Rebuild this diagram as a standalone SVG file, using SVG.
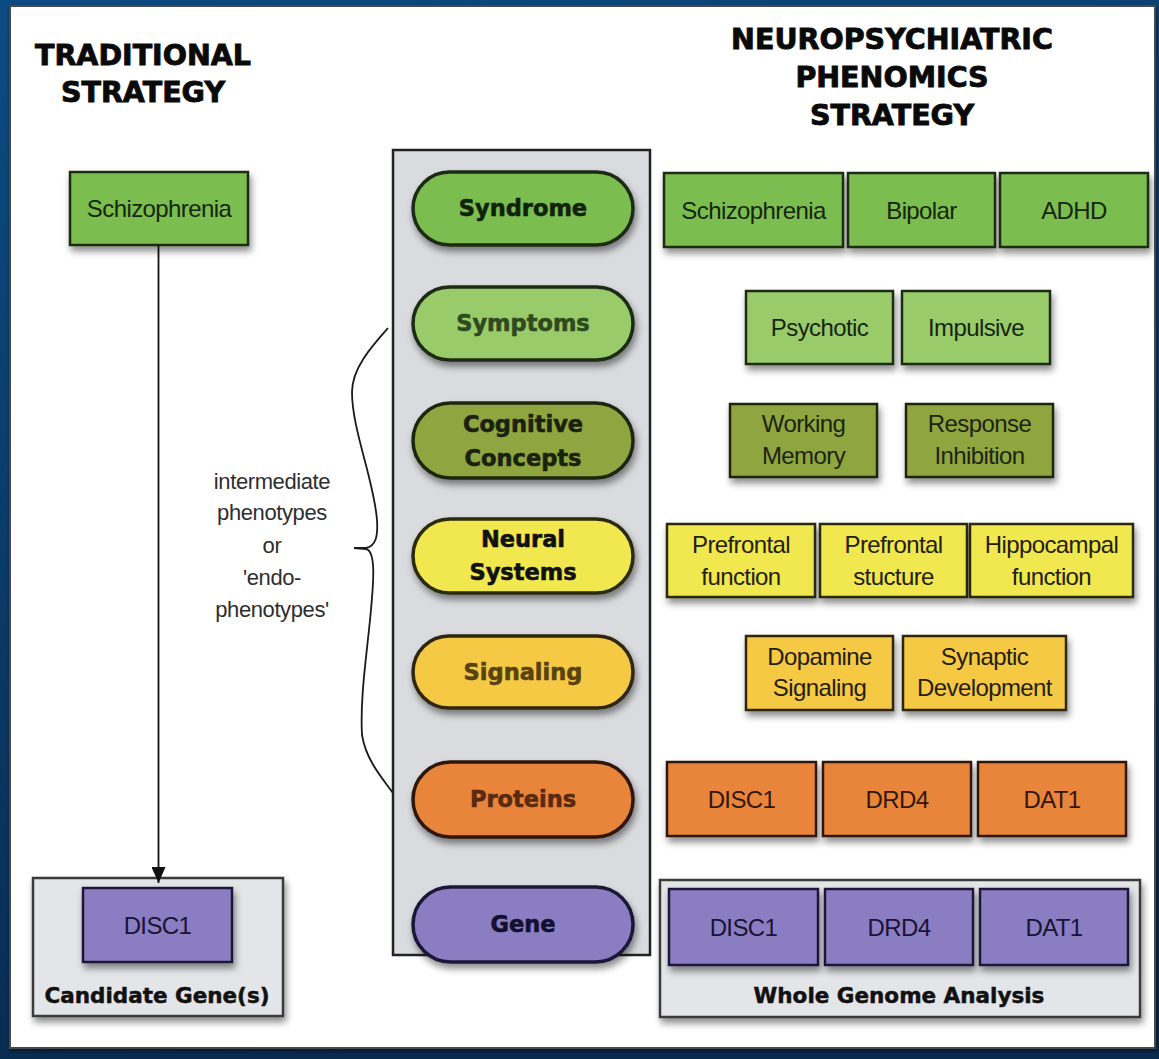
<svg xmlns="http://www.w3.org/2000/svg" width="1159" height="1059" viewBox="0 0 1159 1059">
  <defs>
    <linearGradient id="bg" x1="0" y1="0" x2="0.3" y2="1">
      <stop offset="0" stop-color="#0c4b82"/>
      <stop offset="1" stop-color="#082a4d"/>
    </linearGradient>
    <filter id="shadow" x="-10%" y="-10%" width="125%" height="140%">
      <feDropShadow dx="2" dy="5" stdDeviation="3.5" flood-color="#000" flood-opacity="0.45"/>
    </filter>
    <filter id="panelShadow" x="-2%" y="-2%" width="104%" height="104%">
      <feDropShadow dx="1" dy="2" stdDeviation="2" flood-color="#000" flood-opacity="0.5"/>
    </filter>
    <marker id="arrow" viewBox="0 0 16 14" refX="16" refY="7" markerWidth="16" markerHeight="14" markerUnits="userSpaceOnUse" orient="auto">
      <path d="M0,0 L16,7 L0,14 Z" fill="#111"/>
    </marker>
    <style>
      .head { font-family: "DejaVu Sans", "Liberation Sans", sans-serif; font-weight: bold; font-size: 28.5px; fill: #0a0a0a; stroke: #0a0a0a; stroke-width: 0.9px; text-anchor: middle; }
      .pill-label { font-family: "DejaVu Sans", "Liberation Sans", sans-serif; font-weight: bold; font-size: 22.5px; stroke-width: 0.6px; text-anchor: middle; }
      .group-label { font-family: "DejaVu Sans", "Liberation Sans", sans-serif; font-weight: bold; font-size: 21.5px; fill: #111; stroke: #111; stroke-width: 0.5px; text-anchor: middle; }
      .box-label { font-family: "Liberation Sans", Arial, sans-serif; font-size: 24px; letter-spacing: -0.6px; text-anchor: middle; }
      .note { font-family: "Liberation Sans", Arial, sans-serif; font-size: 22px; letter-spacing: -0.4px; fill: #2e2e2e; text-anchor: middle; }
      .box { stroke-width: 2.5; filter: url(#shadow); }
      .pill { stroke: #111; stroke-width: 3.5; filter: url(#shadow); }
      .syndrome { fill: #7cbd4f; stroke: #1c2c12; }
      .symptoms { fill: #99cb6b; stroke: #1c2c12; }
      .cognitive { fill: #8fa63f; stroke: #1f2610; }
      .neural { fill: #f1e84f; stroke: #2b2a10; }
      .signaling { fill: #f6c944; stroke: #2e2610; }
      .proteins { fill: #e8853b; stroke: #2e1808; }
      .gene { fill: #8b7dc2; stroke: #1c1838; }
      .t-green { fill: #15260c; }
      .t-olive { fill: #1c2410; }
      .t-yellow { fill: #24200a; }
      .t-orange { fill: #331606; }
      .t-purple { fill: #181436; }
      .p-syndrome { fill: #11220a; stroke: #11220a; }
      .p-symptoms { fill: #2e4a1e; stroke: #2e4a1e; }
      .p-cognitive { fill: #1a220e; stroke: #1a220e; }
      .p-neural { fill: #111; stroke: #111; }
      .p-signaling { fill: #58420e; stroke: #58420e; }
      .p-proteins { fill: #5a2a10; stroke: #5a2a10; }
      .p-gene { fill: #121030; stroke: #121030; }
      .container { fill: #e4e5e8; stroke: #3a3a3a; stroke-width: 2.5; filter: url(#shadow); }
    </style>
  </defs>

  <!-- page background and white panel -->
  <rect x="0" y="0" width="1159" height="1059" fill="url(#bg)"/>
  <rect x="10" y="6" width="1145" height="1042" fill="#ffffff" stroke="#4a4a4a" stroke-width="2" filter="url(#panelShadow)"/>

  <!-- column headings -->
  <g id="heading-traditional">
    <text class="head" x="143" y="65">TRADITIONAL</text>
    <text class="head" x="143" y="102">STRATEGY</text>
  </g>
  <g id="heading-phenomics">
    <text class="head" x="892" y="49">NEUROPSYCHIATRIC</text>
    <text class="head" x="892" y="87">PHENOMICS</text>
    <text class="head" x="892" y="125">STRATEGY</text>
  </g>

  <!-- traditional strategy -->
  <g id="trad-schizophrenia">
    <rect class="box syndrome" x="70" y="172" width="178" height="73"/>
    <text class="box-label t-green" x="159" y="217">Schizophrenia</text>
  </g>
  <g id="candidate-genes">
    <rect class="container" x="33" y="878" width="250" height="138"/>
    <rect class="box gene" x="83" y="888" width="149" height="74"/>
    <text class="box-label t-purple" x="157.5" y="934">DISC1</text>
    <text class="group-label" x="157" y="1003">Candidate Gene(s)</text>
  </g>

  <!-- levels column -->
  <g id="levels">
    <rect x="393" y="150" width="257" height="805" fill="#d9dbdf" stroke="#222" stroke-width="2.5"/>
  </g>
  <g id="level-syndrome">
    <rect class="pill syndrome" x="413" y="172" width="220" height="73" rx="36.5"/>
    <text class="pill-label p-syndrome" x="523" y="216">Syndrome</text>
  </g>
  <g id="level-symptoms">
    <rect class="pill symptoms" x="413" y="287" width="220" height="73" rx="36.5"/>
    <text class="pill-label p-symptoms" x="523" y="331">Symptoms</text>
  </g>
  <g id="level-cognitive">
    <rect class="pill cognitive" x="413" y="403" width="220" height="75" rx="37.5"/>
    <text class="pill-label p-cognitive" x="523" y="432">Cognitive</text>
    <text class="pill-label p-cognitive" x="523" y="466">Concepts</text>
  </g>
  <g id="level-neural">
    <rect class="pill neural" x="413" y="519" width="220" height="74" rx="37"/>
    <text class="pill-label p-neural" x="523" y="547">Neural</text>
    <text class="pill-label p-neural" x="523" y="580">Systems</text>
  </g>
  <g id="level-signaling">
    <rect class="pill signaling" x="413" y="636" width="220" height="72" rx="36"/>
    <text class="pill-label p-signaling" x="523" y="680">Signaling</text>
  </g>
  <g id="level-proteins">
    <rect class="pill proteins" x="413" y="762" width="220" height="75" rx="37.5"/>
    <text class="pill-label p-proteins" x="523" y="807">Proteins</text>
  </g>
  <g id="level-gene">
    <rect class="pill gene" x="413" y="887" width="220" height="75" rx="37.5"/>
    <text class="pill-label p-gene" x="523" y="932">Gene</text>
  </g>

  <!-- endophenotype bracket and note -->
  <g id="endophenotype-note">
    <path d="M388,328 C372,346 352,368 352,392 C352,430 374,480 377,520 C378,536 376,546 366,548 L354,548 L366,549 C376,551 374,580 370,620 C366,660 360,700 362,735 C366,760 382,778 393,793" fill="none" stroke="#1a1a1a" stroke-width="1.8"/>
    <text class="note" x="272" y="489">intermediate</text>
    <text class="note" x="272" y="520">phenotypes</text>
    <text class="note" x="272" y="553">or</text>
    <text class="note" x="272" y="585">'endo-</text>
    <text class="note" x="272" y="617">phenotypes'</text>
  </g>

  <!-- phenomics rows -->
  <g id="syndrome-row">
    <rect class="box syndrome" x="664" y="173" width="179" height="74"/>
    <text class="box-label t-green" x="753.5" y="219">Schizophrenia</text>
    <rect class="box syndrome" x="848" y="173" width="147" height="74"/>
    <text class="box-label t-green" x="921.5" y="219">Bipolar</text>
    <rect class="box syndrome" x="1000" y="173" width="148" height="74"/>
    <text class="box-label t-green" x="1074" y="219">ADHD</text>
  </g>
  <g id="symptoms-row">
    <rect class="box symptoms" x="746" y="291" width="147" height="73"/>
    <text class="box-label t-green" x="819.5" y="336">Psychotic</text>
    <rect class="box symptoms" x="902" y="291" width="148" height="73"/>
    <text class="box-label t-green" x="976" y="336">Impulsive</text>
  </g>
  <g id="cognitive-row">
    <rect class="box cognitive" x="730" y="404" width="147" height="73"/>
    <text class="box-label t-olive" x="803.5" y="432">Working</text>
    <text class="box-label t-olive" x="803.5" y="464">Memory</text>
    <rect class="box cognitive" x="906" y="404" width="147" height="73"/>
    <text class="box-label t-olive" x="979.5" y="432">Response</text>
    <text class="box-label t-olive" x="979.5" y="464">Inhibition</text>
  </g>
  <g id="neural-row">
    <rect class="box neural" x="667" y="524" width="148" height="73"/>
    <text class="box-label t-yellow" x="741" y="553">Prefrontal</text>
    <text class="box-label t-yellow" x="741" y="585">function</text>
    <rect class="box neural" x="820" y="524" width="147" height="73"/>
    <text class="box-label t-yellow" x="893.5" y="553">Prefrontal</text>
    <text class="box-label t-yellow" x="893.5" y="585">stucture</text>
    <rect class="box neural" x="970" y="524" width="163" height="73"/>
    <text class="box-label t-yellow" x="1051.5" y="553">Hippocampal</text>
    <text class="box-label t-yellow" x="1051.5" y="585">function</text>
  </g>
  <g id="signaling-row">
    <rect class="box signaling" x="746" y="636" width="147" height="74"/>
    <text class="box-label t-yellow" x="819.5" y="665">Dopamine</text>
    <text class="box-label t-yellow" x="819.5" y="696">Signaling</text>
    <rect class="box signaling" x="903" y="636" width="163" height="74"/>
    <text class="box-label t-yellow" x="984.5" y="665">Synaptic</text>
    <text class="box-label t-yellow" x="984.5" y="696">Development</text>
  </g>
  <g id="proteins-row">
    <rect class="box proteins" x="667" y="762" width="149" height="74"/>
    <text class="box-label t-orange" x="741.5" y="808">DISC1</text>
    <rect class="box proteins" x="823" y="762" width="148" height="74"/>
    <text class="box-label t-orange" x="897" y="808">DRD4</text>
    <rect class="box proteins" x="978" y="762" width="148" height="74"/>
    <text class="box-label t-orange" x="1052" y="808">DAT1</text>
  </g>
  <g id="whole-genome">
    <rect class="container" x="660" y="880" width="480" height="137"/>
    <rect class="box gene" x="669" y="889" width="149" height="76"/>
    <text class="box-label t-purple" x="743.5" y="936">DISC1</text>
    <rect class="box gene" x="825" y="889" width="148" height="76"/>
    <text class="box-label t-purple" x="899" y="936">DRD4</text>
    <rect class="box gene" x="980" y="889" width="148" height="76"/>
    <text class="box-label t-purple" x="1054" y="936">DAT1</text>
    <text class="group-label" x="899" y="1003">Whole Genome Analysis</text>
  </g>

  <!-- connectors -->
  <g id="connectors">
    <line x1="158.5" y1="245" x2="158.5" y2="883" stroke="#111" stroke-width="1.8" marker-end="url(#arrow)"/>
  </g>
</svg>
